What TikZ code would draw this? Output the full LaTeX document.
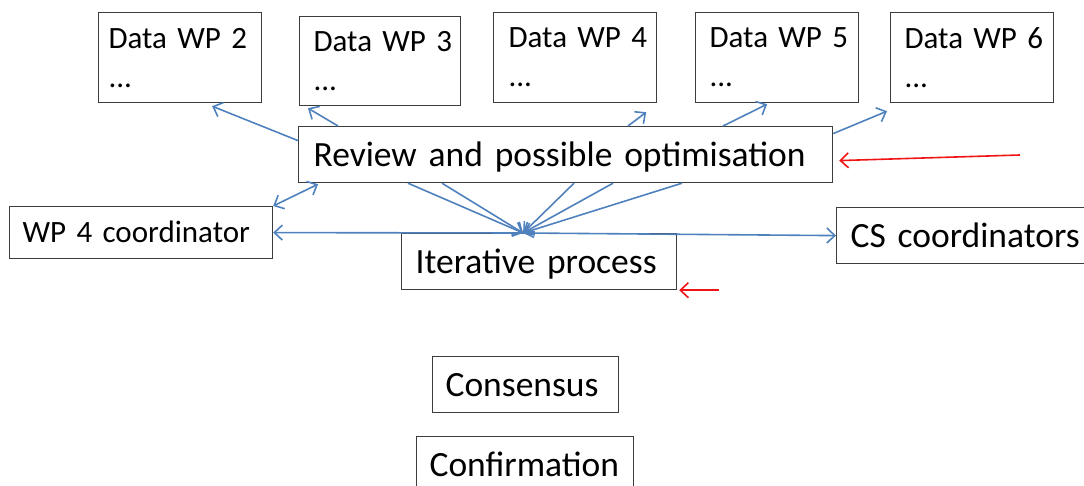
\documentclass[tikz,border=0pt]{standalone}
\usepackage{fontspec}
\setmainfont{Carlito}
\usetikzlibrary{positioning, calc, arrows.meta}
\definecolor{wpBlue}{RGB}{79,129,189}
\definecolor{wpRed}{RGB}{240,20,20}
\definecolor{wpFrame}{RGB}{60,60,60}

\begin{document}
\begin{tikzpicture}[x=1pt, y=-1pt,
  box/.style={draw=wpFrame, line width=1.2pt, anchor=north west, align=left, inner ysep=0pt, font=\fontsize{31}{39}\selectfont},
  single/.style={box, text height=20pt, text depth=0pt},
  large/.style={single, font=\fontsize{35.5}{42}\selectfont, text height=23pt},
  data/.style={box, minimum width=163pt, minimum height=90pt, inner xsep=14pt, text width=135pt},
  flow/.style={draw=wpBlue, line width=1.6pt, -{Straight Barb[length=8pt,width=15pt]}},
  both/.style={flow, {Straight Barb[length=8pt,width=15pt]}-{Straight Barb[length=8pt,width=15pt]}},
  note/.style={draw=wpRed, line width=1.6pt, -{Straight Barb[length=8pt,width=15pt]}}
]
  \useasboundingbox (0,0) rectangle (1084,486);

  % data of the work packages
  \node[data, inner xsep=10pt, text width=143pt] (d2) at (98,12) {Data~WP~2\\...};
  \node[data, minimum width=161pt, minimum height=89pt, text width=133pt] (d3) at (299,16) {Data~WP~3\\...};
  \node[data, inner xsep=15pt, text width=133pt] (d4) at (493,12) {Data~WP~4\\...};
  \node[data] (d5) at (695,12) {Data~WP~5\\...};
  \node[data] (d6) at (890,12) {Data~WP~6\\...};

  \node[large, minimum width=534pt, minimum height=56pt, inner xsep=15pt, text width=504pt] (review) at (298,126) {Review and possible optimisation};
  \node[single, minimum width=263pt, minimum height=52pt, inner xsep=13pt, text width=237pt] (wp4c) at (9,206) {WP~4~coordinator};
  \node[large, minimum width=275pt, minimum height=56pt, inner xsep=14pt, text width=247pt] (iter) at (401,233) {Iterative~process};
  \node[large, minimum width=262pt, minimum height=56pt, inner xsep=14pt, text width=234pt] (cs) at (836,207) {CS~coordinators};
  \node[large, minimum width=186pt, minimum height=56pt, inner xsep=13pt, text width=160pt] (cons) at (432,356) {Consensus};
  \node[large, minimum width=217pt, minimum height=56pt, inner xsep=13pt, text width=191pt] (conf) at (416,436) {Confirmation};

  % review feeds the data boxes
  \draw[flow] ([yshift=14pt]review.west) -- ([xshift=32pt,yshift=-3pt]d2.south);
  \draw[flow] ([xshift=40pt]review.north west) -- ([xshift=9pt,yshift=-2pt]d3.south west);
  \draw[flow] ([xshift=330pt]review.north west) -- ([xshift=-11pt,yshift=-9pt]d4.south east);
  \draw[flow] ([xshift=425pt]review.north west) -- ([xshift=-10pt,yshift=-1pt]d5.south);
  \draw[flow] ([yshift=21pt]review.east) -- ([xshift=-3pt,yshift=-8pt]d6.south west);
  \draw[both] (wp4c.north east) -- ([xshift=20pt,yshift=-1pt]review.south west);

  % everything meets in the iterative process
  \coordinate (hub) at ([xshift=-16pt]iter.north);
  \foreach \dx in {110,144,276,315,384}
    \draw[flow] ([xshift=\dx pt]review.south west) -- (hub);
  \draw[flow] (hub) -- (wp4c.east);
  \draw[flow] (hub) -- (cs.west);

  % red pointers
  \coordinate (r1) at (1020,155);
  \coordinate (r2) at ([xshift=42pt]iter.south east);
  \draw[note] (r1) -- ([xshift=6pt,yshift=-6pt]review.east);
  \draw[note] (r2) -- ([xshift=2pt]iter.south east);
\end{tikzpicture}
\end{document}
